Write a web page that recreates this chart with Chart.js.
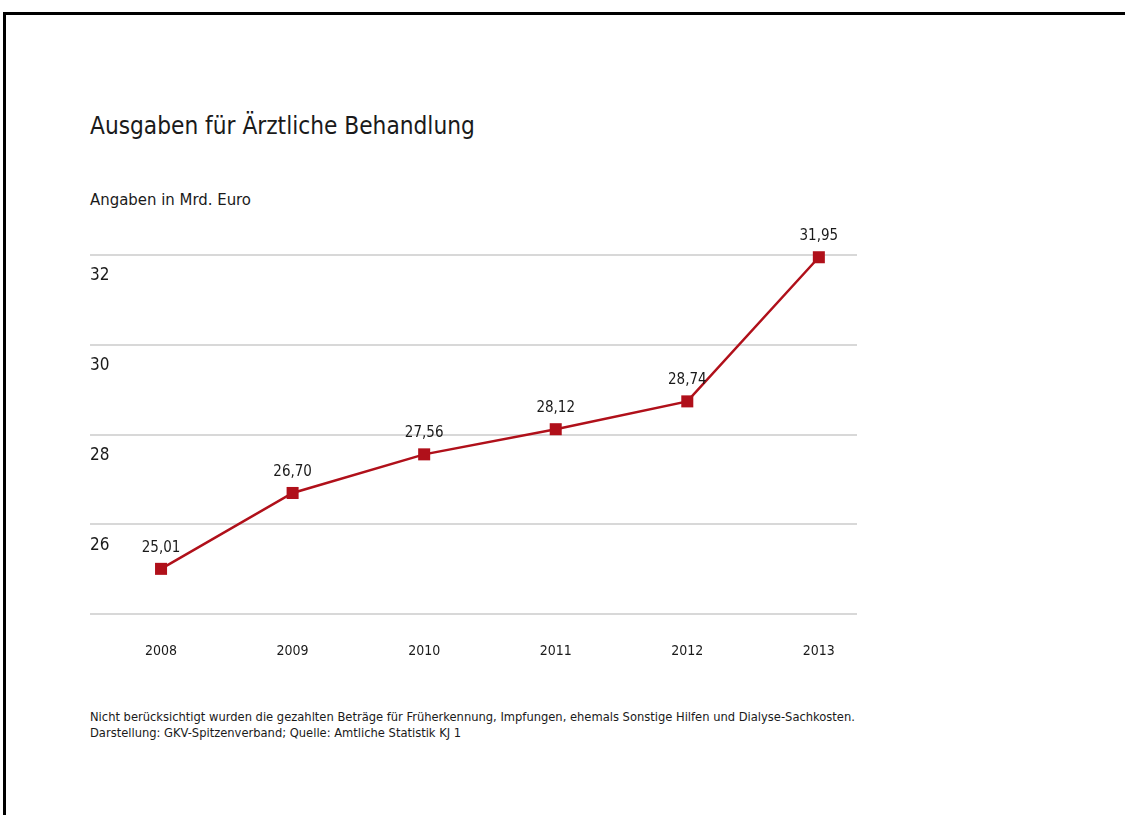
<!DOCTYPE html>
<html lang="de">
<head>
<meta charset="utf-8">
<title>Ausgaben für Ärztliche Behandlung</title>
<script src="https://cdn.jsdelivr.net/npm/chart.js@4"></script>
<style>
  html, body { margin: 0; padding: 0; background: #fff; }
  body { width: 1125px; height: 815px; position: relative; overflow: hidden;
         font-family: "Liberation Sans Narrow", "DejaVu Sans Condensed", Lato, sans-serif; color: #1a1a1a; }
  #rahmen { position: absolute; left: 3px; top: 12px; right: 0; bottom: 0;
            border-top: 3px solid #000; border-left: 3px solid #000; }
  #titel { position: absolute; left: 90px; top: 114px; font-size: 24.2px; line-height: 25px; white-space: nowrap; }
  #einheit { position: absolute; left: 90px; top: 191px; font-size: 16.6px; line-height: 17px; white-space: nowrap; }
  #fussnote { position: absolute; left: 90px; top: 709px; font-size: 12.8px; line-height: 16px; white-space: nowrap; }
  #chartBox { position: absolute; left: 0; top: 0; width: 1125px; height: 815px; }
</style>
</head>
<body>
<div id="rahmen"></div>
<div id="titel">Ausgaben für Ärztliche Behandlung</div>
<div id="einheit">Angaben in Mrd. Euro</div>
<div id="fussnote">Nicht berücksichtigt wurden die gezahlten Beträge für Früherkennung, Impfungen, ehemals Sonstige Hilfen und Dialyse-Sachkosten.<br>Darstellung: GKV-Spitzenverband; Quelle: Amtliche Statistik KJ 1</div>
<div id="chartBox"><canvas id="ausgabenChart"></canvas></div>
<script>
// Daten
const jahre = [2008, 2009, 2010, 2011, 2012, 2013];
const ausgaben = [25.01, 26.70, 27.56, 28.12, 28.74, 31.95];
const wertLabels = ['25,01', '26,70', '27,56', '28,12', '28,74', '31,95'];
const yMin = 24, yMax = 32, yStep = 2;

const schrift = '"Liberation Sans Narrow", "DejaVu Sans Condensed", Lato, sans-serif';
const rot = '#b0101a';

// Werte über die Punkte schreiben
const wertePlugin = {
    id: 'wertePlugin',
    afterDatasetsDraw(chart) {
        const ctx = chart.ctx;
        const meta = chart.getDatasetMeta(0);
        ctx.save();
        ctx.font = '15px ' + schrift;
        ctx.fillStyle = '#1a1a1a';
        ctx.textAlign = 'center';
        ctx.textBaseline = 'middle';
        meta.data.forEach((pt, i) => {
            ctx.fillText(wertLabels[i], pt.x, pt.y - 21);
        });
        ctx.restore();
    }
};

document.addEventListener('DOMContentLoaded', function() {
    const ctx = document.getElementById('ausgabenChart').getContext('2d');

    new Chart(ctx, {
        type: 'line',
        data: {
            datasets: [{
                data: jahre.map((j, i) => ({ x: j, y: ausgaben[i] })),
                borderColor: rot,
                backgroundColor: rot,
                borderWidth: 2.5,
                pointStyle: 'rect',
                pointRadius: 8.5,
                pointHoverRadius: 8.5,
                pointBorderWidth: 0,
                tension: 0,
                clip: false
            }]
        },
        options: {
            responsive: true,
            maintainAspectRatio: false,
            animation: false,
            layout: { padding: { left: 90, right: 268, top: 255, bottom: 134 } },
            plugins: {
                legend: { display: false },
                tooltip: { enabled: false }
            },
            scales: {
                x: {
                    type: 'linear',
                    min: 2007.46,
                    max: 2013.29,
                    afterBuildTicks: s => { s.ticks = jahre.map(j => ({ value: j })); },
                    grid: { display: false },
                    border: { display: false },
                    ticks: {
                        callback: v => String(v),
                        color: '#1a1a1a',
                        font: { family: schrift, size: 14 },
                        padding: 21,
                        maxRotation: 0
                    }
                },
                y: {
                    min: yMin,
                    max: yMax,
                    grid: { color: '#d8d8d8', lineWidth: 2, drawTicks: false },
                    border: { display: false },
                    ticks: {
                        stepSize: yStep,
                        mirror: true,
                        padding: 0,
                        labelOffset: 21,
                        color: '#1a1a1a',
                        font: { family: schrift, size: 17 },
                        callback: v => (v === yMin ? '' : String(v))
                    }
                }
            }
        },
        plugins: [wertePlugin]
    });
});
</script>
</body>
</html>
